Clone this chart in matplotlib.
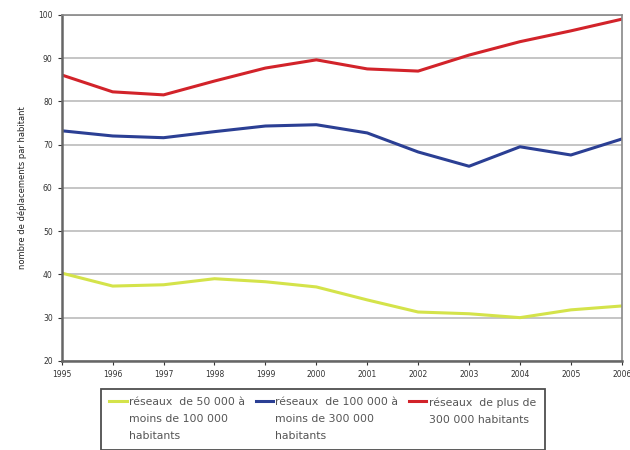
import matplotlib.pyplot as plt
import numpy as np

years = [1995, 1996, 1997, 1998, 1999, 2000, 2001, 2002, 2003, 2004, 2005, 2006]
petits = [40.3, 37.3, 37.6, 39.0, 38.3, 37.1, 34.1, 31.3, 30.9, 30.0, 31.8, 32.7]
moyens = [73.2, 72.0, 71.6, 73.0, 74.3, 74.6, 72.7, 68.3, 65.0, 69.5, 67.6, 71.3]
grands = [86.1, 82.2, 81.5, 84.7, 87.7, 89.6, 87.5, 87.0, 90.7, 93.8, 96.3, 99.0]
labels = ["réseaux  de 50 000 à\nmoins de 100 000\nhabitants",
          "réseaux  de 100 000 à\nmoins de 300 000\nhabitants",
          "réseaux  de plus de\n300 000 habitants"]
colors = ["#d4e34a", "#2b3f94", "#d2232a"]

fig = plt.figure(figsize=(6.3, 4.5), dpi=100)
ax = fig.add_axes([0.098, 0.198, 0.889, 0.769])

for serie, lab, col in zip([petits, moyens, grands], labels, colors):
    ax.plot(years, serie, color=col, linewidth=2.2, label=lab)

ax.set_xlim(1995, 2006)
ax.set_ylim(20, 100)
ax.set_xticks(years)
ax.set_yticks(np.arange(20, 101, 10))
ax.tick_params(labelsize=5.5, colors="#333333", length=3, width=0.8)
ax.grid(axis="y", color="#bbbbbb", linewidth=1.2)
ax.set_axisbelow(True)
for side in ["left", "bottom"]:
    ax.spines[side].set_color("#666666")
    ax.spines[side].set_linewidth(1.8)
for side in ["top", "right"]:
    ax.spines[side].set_color("#888888")
    ax.spines[side].set_linewidth(1.2)
ax.set_ylabel("nombre de déplacements par habitant", fontsize=6, color="#222222", labelpad=8)

leg = fig.legend(loc="upper left", bbox_to_anchor=(0.160, 0.136), ncol=3, fontsize=7.8,
                 frameon=True, fancybox=False, edgecolor="#222222", handlelength=1.6,
                 handletextpad=0.2, columnspacing=1.0, borderpad=0.8, borderaxespad=0)
leg.get_frame().set_linewidth(1.3)
for t in leg.get_texts():
    t.set_color("#555555")
    t.set_linespacing(1.85)
# handles next to the first line of each label, columns aligned at the top
leg._legend_handle_box.align = "top"
for col in leg._legend_handle_box.get_children():
    for entry in col.get_children():
        entry.align = "top"

fig.savefig("out.png", dpi=100)
